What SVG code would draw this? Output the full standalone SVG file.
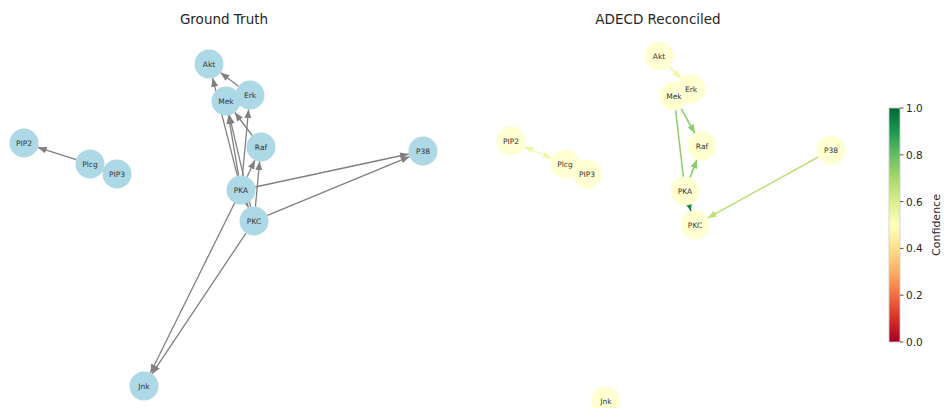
<svg xmlns="http://www.w3.org/2000/svg" width="945" height="408" viewBox="0 0 945 408">
<style>
.t{font-family:"DejaVu Sans",sans-serif;fill:#262626}
.title{font-size:13.5px;text-anchor:middle}
.lab{font-size:7.5px;text-anchor:middle;dominant-baseline:central;fill:#333}
.gt{fill:#add8e6}
.rc{fill:#ffffd2}
.ge{stroke:#808080;stroke-width:1.3;fill:none;marker-end:url(#ag)}
.tick{font-size:10.5px}
</style>
<defs>
<marker id="ag" viewBox="0 0 10 8" refX="10" refY="4" markerWidth="9" markerHeight="7" markerUnits="userSpaceOnUse" orient="auto"><path d="M0,0L10,4L0,8z" fill="#808080"/></marker>
<marker id="ay" viewBox="0 0 10 8" refX="10" refY="4" markerWidth="9" markerHeight="7" markerUnits="userSpaceOnUse" orient="auto"><path d="M0,0L10,4L0,8z" fill="#f1f7a4"/></marker>
<marker id="ays" viewBox="0 0 10 8" refX="0" refY="4" markerWidth="9" markerHeight="7" markerUnits="userSpaceOnUse" orient="auto"><path d="M10,0L0,4L10,8z" fill="#f1f7a4"/></marker>
<marker id="am" viewBox="0 0 10 8" refX="10" refY="4" markerWidth="9" markerHeight="7" markerUnits="userSpaceOnUse" orient="auto"><path d="M0,0L10,4L0,8z" fill="#8ccf6a"/></marker>
<marker id="ad" viewBox="0 0 10 8" refX="10" refY="4" markerWidth="9" markerHeight="7" markerUnits="userSpaceOnUse" orient="auto"><path d="M0,0L10,4L0,8z" fill="#17843f"/></marker>
<marker id="al" viewBox="0 0 10 8" refX="10" refY="4" markerWidth="9" markerHeight="7" markerUnits="userSpaceOnUse" orient="auto"><path d="M0,0L10,4L0,8z" fill="#bde37a"/></marker>
<linearGradient id="cb" x1="0" y1="1" x2="0" y2="0">
<stop offset="0" stop-color="#a50026"/><stop offset="0.1" stop-color="#d73027"/><stop offset="0.2" stop-color="#f46d43"/><stop offset="0.3" stop-color="#fdae61"/><stop offset="0.4" stop-color="#fee08b"/><stop offset="0.5" stop-color="#ffffbf"/><stop offset="0.6" stop-color="#d9ef8b"/><stop offset="0.7" stop-color="#a6d96a"/><stop offset="0.8" stop-color="#66bd63"/><stop offset="0.9" stop-color="#1a9850"/><stop offset="1" stop-color="#006837"/>
</linearGradient>
</defs>
<rect width="945" height="408" fill="#fff"/>
<text class="t title" x="224" y="24">Ground Truth</text>
<text class="t title" x="658" y="24">ADECD Reconciled</text>

<g id="edges-gt">
<line class="ge" x1="76.2" y1="159.6" x2="37.8" y2="147.4"/>
<line class="ge" x1="238.4" y1="86.3" x2="220.6" y2="72.7"/>
<line class="ge" x1="237.4" y1="175.9" x2="212.6" y2="78.1"/>
<line class="ge" x1="238.6" y1="175.7" x2="228.4" y2="115.3"/>
<line class="ge" x1="250.7" y1="206.9" x2="229.3" y2="115.1"/>
<line class="ge" x1="252.2" y1="135.5" x2="234.8" y2="112.5"/>
<line class="ge" x1="242.4" y1="175.6" x2="248.6" y2="109.4"/>
<line class="ge" x1="247.1" y1="176.8" x2="254.9" y2="160.2"/>
<line class="ge" x1="255.4" y1="206.6" x2="259.6" y2="161.4"/>
<line class="ge" x1="246.6" y1="203.4" x2="248.4" y2="207.6"/>
<line class="ge" x1="255.2" y1="187" x2="408.8" y2="154"/>
<line class="ge" x1="267.4" y1="215.4" x2="409.6" y2="156.6"/>
<line class="ge" x1="234.6" y1="203" x2="150.4" y2="373"/>
<line class="ge" x1="246" y1="233.1" x2="152" y2="373.9"/>
</g>

<g id="edges-rc">
<line x1="669.1" y1="66.4" x2="680.9" y2="78.6" stroke="#f1f7a4" stroke-width="1.6" marker-end="url(#ay)"/>
<line x1="681.1" y1="108.7" x2="694.9" y2="133.3" stroke="#8ccf6a" stroke-width="1.6" marker-end="url(#am)"/>
<line x1="674" y1="96" x2="685" y2="191" stroke="#8fd16c" stroke-width="1.6"/>
<line x1="690.1" y1="177.4" x2="696.9" y2="159.6" stroke="#8ccf6a" stroke-width="1.6" marker-end="url(#am)"/>
<line x1="689.1" y1="204.9" x2="690.9" y2="211.1" stroke="#17843f" stroke-width="1.6" marker-end="url(#ad)"/>
<line x1="818.3" y1="157" x2="707.7" y2="218" stroke="#bde37a" stroke-width="1.6" marker-end="url(#al)"/>
<line x1="524.3" y1="146.7" x2="551.7" y2="158.3" stroke="#f1f7a4" stroke-width="1.6" stroke-dasharray="2,1" marker-start="url(#ays)" marker-end="url(#ay)"/>
</g>

<g id="nodes-gt">
<g id="gt-Akt"><circle class="gt" cx="209" cy="64" r="14.5"/></g>
<g id="gt-Erk"><circle class="gt" cx="250" cy="95" r="14.5"/></g>
<g id="gt-Mek"><circle class="gt" cx="226" cy="101" r="14.5"/></g>
<g id="gt-Raf"><circle class="gt" cx="261" cy="147" r="14.5"/></g>
<g id="gt-PKA"><circle class="gt" cx="241" cy="190" r="14.5"/></g>
<g id="gt-PKC"><circle class="gt" cx="254" cy="221" r="14.5"/></g>
<g id="gt-P38"><circle class="gt" cx="423" cy="151" r="14.5"/></g>
<g id="gt-Jnk"><circle class="gt" cx="144" cy="386" r="14.5"/></g>
<g id="gt-PIP2"><circle class="gt" cx="24" cy="143" r="14.5"/></g>
<g id="gt-Plcg"><circle class="gt" cx="90" cy="164" r="14.5"/></g>
<g id="gt-PIP3"><circle class="gt" cx="117" cy="174" r="14.5"/></g>
</g>
<g id="nodes-rc">
<g id="rc-Akt"><circle class="rc" cx="659" cy="56" r="14.5"/></g>
<g id="rc-Erk"><circle class="rc" cx="691" cy="89" r="14.5"/></g>
<g id="rc-Mek"><circle class="rc" cx="674" cy="96" r="14.5"/></g>
<g id="rc-Raf"><circle class="rc" cx="702" cy="146" r="14.5"/></g>
<g id="rc-PKA"><circle class="rc" cx="685" cy="191" r="14.5"/></g>
<g id="rc-PKC"><circle class="rc" cx="695" cy="225" r="14.5"/></g>
<g id="rc-P38"><circle class="rc" cx="831" cy="150" r="14.5"/></g>
<g id="rc-Jnk"><circle class="rc" cx="606" cy="401" r="14.5"/></g>
<g id="rc-PIP2"><circle class="rc" cx="511" cy="141" r="14.5"/></g>
<g id="rc-Plcg"><circle class="rc" cx="565" cy="164" r="14.5"/></g>
<g id="rc-PIP3"><circle class="rc" cx="587" cy="174" r="14.5"/></g>
</g>

<g id="node-labels" class="t lab">
<text x="209" y="64">Akt</text><text x="250" y="95">Erk</text><text x="226" y="101">Mek</text><text x="261" y="147">Raf</text><text x="241" y="190">PKA</text><text x="254" y="221">PKC</text><text x="423" y="151">P38</text><text x="144" y="386">Jnk</text><text x="24" y="143">PIP2</text><text x="90" y="164">Plcg</text><text x="117" y="174">PIP3</text>
<text x="659" y="56">Akt</text><text x="691" y="89">Erk</text><text x="674" y="96">Mek</text><text x="702" y="146">Raf</text><text x="685" y="191">PKA</text><text x="695" y="225">PKC</text><text x="831" y="150">P38</text><text x="606" y="401">Jnk</text><text x="511" y="141">PIP2</text><text x="565" y="164">Plcg</text><text x="587" y="174">PIP3</text>
</g>

<g id="colorbar">
<rect x="889" y="108" width="11" height="234" fill="url(#cb)" stroke="#cccccc" stroke-width="0.8"/>
<g stroke="#262626" stroke-width="0.8">
<line x1="900" y1="108" x2="903.5" y2="108"/><line x1="900" y1="154.8" x2="903.5" y2="154.8"/><line x1="900" y1="201.6" x2="903.5" y2="201.6"/><line x1="900" y1="248.4" x2="903.5" y2="248.4"/><line x1="900" y1="295.2" x2="903.5" y2="295.2"/><line x1="900" y1="342" x2="903.5" y2="342"/>
</g>
<g class="t tick" dominant-baseline="central">
<text x="906" y="108">1.0</text><text x="906" y="154.8">0.8</text><text x="906" y="201.6">0.6</text><text x="906" y="248.4">0.4</text><text x="906" y="295.2">0.2</text><text x="906" y="342">0.0</text>
</g>
<text class="t" font-size="11" text-anchor="middle" transform="translate(940,225) rotate(-90)">Confidence</text>
</g>
</svg>
